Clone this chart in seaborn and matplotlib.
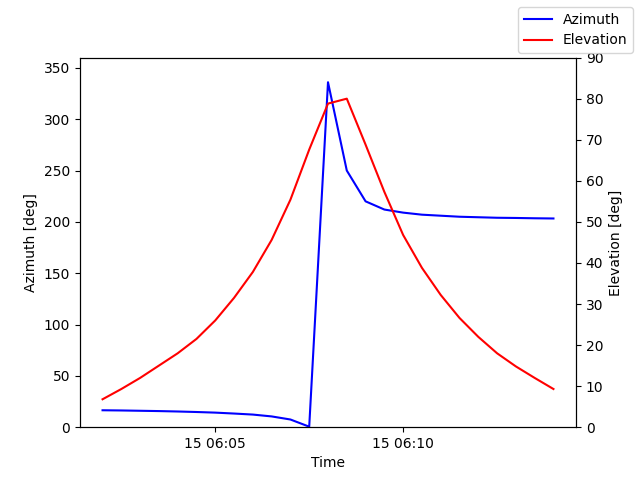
import numpy as np
import pandas as pd
import matplotlib
matplotlib.use("Agg")
import matplotlib.pyplot as plt
import matplotlib.dates as mdates
import seaborn as sns

times = pd.date_range("2024-01-15 06:02:00", "2024-01-15 06:14:00", freq="30s")

azimuth = [16.5, 16.3, 16.0, 15.7, 15.3, 14.8, 14.2, 13.3, 12.3, 10.5, 7.5, 0.5,
           336, 250, 220, 212, 209, 207, 206, 205, 204.5, 204, 203.8, 203.5, 203.3]
elevation = [6.8, 9.3, 12.0, 15.0, 18.0, 21.5, 26.0, 31.5, 37.8, 45.6, 55.4, 67.6,
             78.8, 80.0, 68.8, 57.3, 46.8, 38.8, 32.2, 26.6, 22.0, 18.0, 14.8, 12.0, 9.3]

fig, ax = plt.subplots(figsize=(6.4, 4.8), dpi=100)
sns.lineplot(x=times, y=azimuth, ax=ax, color="blue", label="Azimuth", legend=False)
ax2 = ax.twinx()
sns.lineplot(x=times, y=elevation, ax=ax2, color="red", label="Elevation", legend=False)

ax.set_ylim(0, 360)
ax2.set_ylim(0, 90)
ax.set_xlabel("Time")
ax.set_ylabel("Azimuth [deg]")
ax2.set_ylabel("Elevation [deg]")
ax.xaxis.set_major_locator(mdates.MinuteLocator(byminute=range(0, 60, 5)))
ax.xaxis.set_major_formatter(mdates.DateFormatter("%d %H:%M"))

fig.legend(loc="upper right")
fig.subplots_adjust(left=0.125, right=0.9, top=0.88, bottom=0.11)
fig.savefig("out.png")
